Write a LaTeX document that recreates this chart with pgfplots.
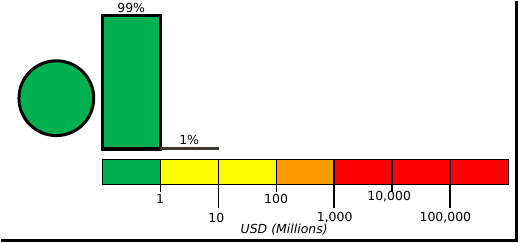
\documentclass[border=0pt]{standalone}
\usepackage{pgfplots}
\pgfplotsset{compat=1.18}
\usepackage{fontspec}
\setmainfont{DejaVu Sans}
\definecolor{cgreen}{RGB}{0,176,80}
\definecolor{cyellow}{RGB}{255,255,0}
\definecolor{corange}{RGB}{255,153,0}
\definecolor{cred}{RGB}{255,0,0}
\newcommand{\lf}{\fontsize{12.5}{14}\selectfont}
\begin{document}
\begin{tikzpicture}
\begin{axis}[
  scale only axis, width=521pt, height=242pt,
  xmin=-2.737, xmax=6.224, ymin=-69.45, ymax=109.35,
  hide axis, clip=false,
]
\path (rel axis cs:0,0) rectangle (rel axis cs:1,1);
% circle
\addplot[only marks, mark=*, mark size=37.5pt,
  mark options={fill=cgreen, draw=black, line width=3pt}] coordinates {(-1.791,37.7)};
% bars
\addplot[ybar interval, fill=cgreen, draw=black, line width=3.2pt] coordinates {(-1,99) (0,99)};
\addplot[ybar interval, fill=black!75!olive, draw=black!75!olive, line width=0.8pt] coordinates {(0,1) (1,1)};
\node[font=\lf] at (axis cs:-0.5,104.4) {99\%};
\node[font=\lf] at (axis cs:0.5,6.6) {1\%};
% colour strip
\addplot[fill=cgreen, draw=black, line width=0.6pt] coordinates {(-1,-7.39) (0,-7.39) (0,-25.86) (-1,-25.86)} -- cycle;
\addplot[fill=cyellow, draw=black, line width=0.6pt] coordinates {(0,-7.39) (2,-7.39) (2,-25.86) (0,-25.86)} -- cycle;
\addplot[fill=corange, draw=black, line width=0.6pt] coordinates {(2,-7.39) (3,-7.39) (3,-25.86) (2,-25.86)} -- cycle;
\addplot[fill=cred, draw=black, line width=0.6pt] coordinates {(3,-7.39) (6,-7.39) (6,-25.86) (3,-25.86)} -- cycle;
% tick lines
\addplot[black, line width=1.2pt] coordinates {(0,-7.39) (0,-31.5)};
\addplot[black, line width=1.2pt] coordinates {(1,-7.39) (1,-43.6)};
\addplot[black, line width=1.2pt] coordinates {(2,-7.39) (2,-31.5)};
\addplot[black, line width=1.2pt] coordinates {(3,-7.39) (3,-43.6)};
\addplot[black, line width=1.2pt] coordinates {(4,-7.39) (4,-31.5)};
\addplot[black, line width=1.2pt] coordinates {(5,-7.39) (5,-43.6)};
% tick labels
\node[font=\lf] at (axis cs:0,-36.9) {1};
\node[font=\lf] at (axis cs:0.97,-50.9) {10};
\node[font=\lf] at (axis cs:2,-36.9) {100};
\node[font=\lf] at (axis cs:3.01,-50.9) {1,000};
\node[font=\lf] at (axis cs:3.95,-35.5) {10,000};
\node[font=\lf] at (axis cs:4.92,-50.9) {100,000};
\node[font=\lf\itshape] at (axis cs:2.139,-59.8) {USD (Millions)};
% frame
\draw[black, line width=3pt] (rel axis cs:0,0.0103) -- (rel axis cs:0.9914,0.0103) -- (rel axis cs:0.9914,1);
\end{axis}
\end{tikzpicture}
\end{document}
